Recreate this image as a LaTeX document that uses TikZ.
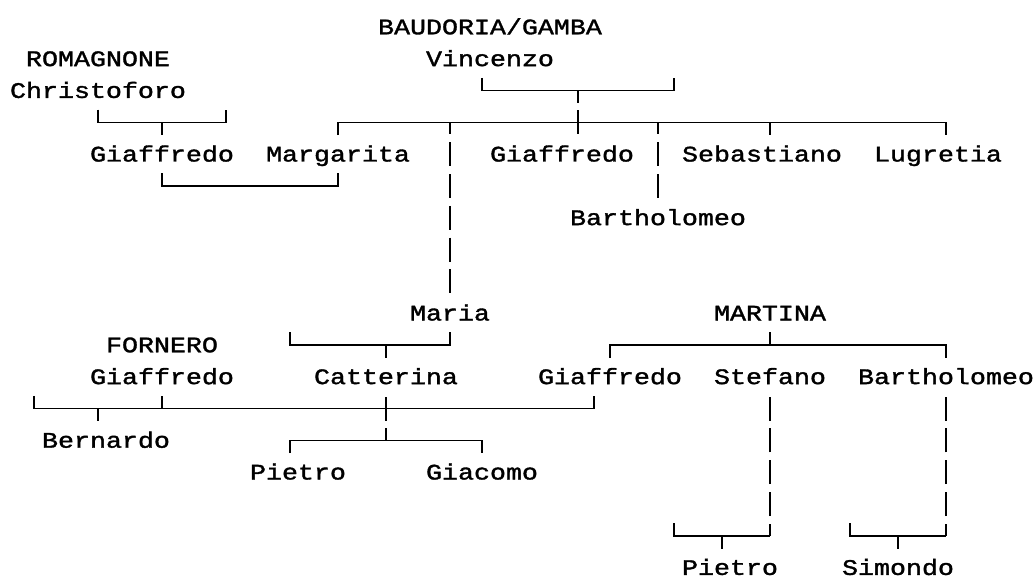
\documentclass[tikz,border=0pt]{standalone}
\usepackage{fontspec}
\newfontfamily\treefont[FakeStretch=1.2, FakeBold=1.5]{Liberation Mono}
\begin{document}
\begin{tikzpicture}[
    x=16pt, y=31.8pt,
    person/.style={font=\treefont\fontsize{22.2}{30}\selectfont, inner sep=0pt, text height=14.6pt, text depth=0pt},
    link/.style={line width=1.7pt},
    dots/.style={link, dash pattern=on 24pt off 7.8pt, dash phase=12pt}
]
\useasboundingbox (-0.625,0.849) rectangle (64,-17.453);

\node[person] (baud) at (30,0) {BAUDORIA/GAMBA};
\node[person] (roma) at (5.5,-1) {ROMAGNONE};
\node[person] (vinc) at (30,-1) {Vincenzo};
\node[person] (chri) at (5.5,-2) {Christoforo};
\node[person] (giaA) at (9.5,-4) {Giaffredo};
\node[person] (marg) at (20.5,-4) {Margarita};
\node[person] (giaB) at (34.5,-4) {Giaffredo};
\node[person] (seba) at (47,-4) {Sebastiano};
\node[person] (lugr) at (58,-4) {Lugretia};
\node[person] (barA) at (40.5,-6) {Bartholomeo};
\node[person] (mari) at (27.5,-9) {Maria};
\node[person] (mart) at (47.5,-9) {MARTINA};
\node[person] (forn) at (9.5,-10) {FORNERO};
\node[person] (giaC) at (9.5,-11) {Giaffredo};
\node[person] (catt) at (23.5,-11) {Catterina};
\node[person] (giaD) at (37.5,-11) {Giaffredo};
\node[person] (stef) at (47.5,-11) {Stefano};
\node[person] (barB) at (58.5,-11) {Bartholomeo};
\node[person] (bern) at (6,-13) {Bernardo};
\node[person] (pieA) at (18,-14) {Pietro};
\node[person] (giac) at (29.5,-14) {Giacomo};
\node[person] (pieB) at (45,-17) {Pietro};
\node[person] (simo) at (55.5,-17) {Simondo};

\coordinate (v1) at (29.5,-2);
\coordinate (v2) at (41.5,-2);
\coordinate (vt) at (35.5,-2);
\coordinate (c1) at (5.5,-3);
\coordinate (c2) at (13.5,-3);
\coordinate (b1) at (20.5,-3);
\coordinate (b2) at (58.5,-3);
\coordinate (m1) at (9.5,-5);
\coordinate (m2) at (20.5,-5);
\coordinate (ma1) at (17.5,-10);
\coordinate (ma2) at (27.5,-10);
\coordinate (mt1) at (37.5,-10);
\coordinate (mt2) at (58.5,-10);
\coordinate (f1) at (1.5,-12);
\coordinate (f2) at (36.5,-12);
\coordinate (bt) at (5.5,-12);
\coordinate (k1) at (17.5,-13);
\coordinate (k2) at (29.5,-13);
\coordinate (s1) at (41.5,-16);
\coordinate (s2) at (47.5,-16);
\coordinate (pt) at (44.5,-16);
\coordinate (si1) at (52.5,-16);
\coordinate (si2) at (58.5,-16);

\draw[link] (v1) ++(0,.4) |- (v2) -- ++(0,.4);
\draw[dots] (vt) -- ++(0,-1.4);
\draw[link] (c1) ++(0,.4) |- (c2) -- ++(0,.4);
\draw[link] (giaA |- c1) -- ++(0,-.4);
\draw[link] (b1) ++(0,-.4) |- (b2) -- ++(0,-.4);
\draw[link] (seba |- b1) ++(.5,0) -- ++(0,-.4);
\draw[dots] (mari |- b1) -- ++(0,-5.4);
\draw[dots] (barA |- b1) -- ++(0,-2.4);
\draw[link] (m1) ++(0,.4) |- (m2) -- ++(0,.4);

\draw[link] (ma1) ++(0,.4) |- (ma2) -- ++(0,.4);
\draw[link] (catt |- ma1) -- ++(0,-.4);
\draw[link] (mt1) ++(0,-.4) |- (mt2) -- ++(0,-.4);
\draw[link] (mart |- mt1) -- ++(0,.4);
\draw[link] (f1) ++(0,.4) |- (f2) -- ++(0,.4);
\draw[link] (giaC |- f1) -- ++(0,.4);
\draw[link] (bt) -- ++(0,-.4);
\draw[link] (k1) ++(0,-.4) |- (k2) -- ++(0,-.4);
\draw[dots] (catt |- k1) -- ++(0,1.4);

\draw[link] (s1) ++(0,.4) |- (s2);
\draw[dots] (stef |- s2) -- ++(0,4.4);
\draw[link] (pt) -- ++(0,-.4);
\draw[link] (si1) ++(0,.4) |- (si2);
\draw[dots] (barB |- si2) -- ++(0,4.4);
\draw[link] (simo |- si1) -- ++(0,-.4);
\end{tikzpicture}
\end{document}
